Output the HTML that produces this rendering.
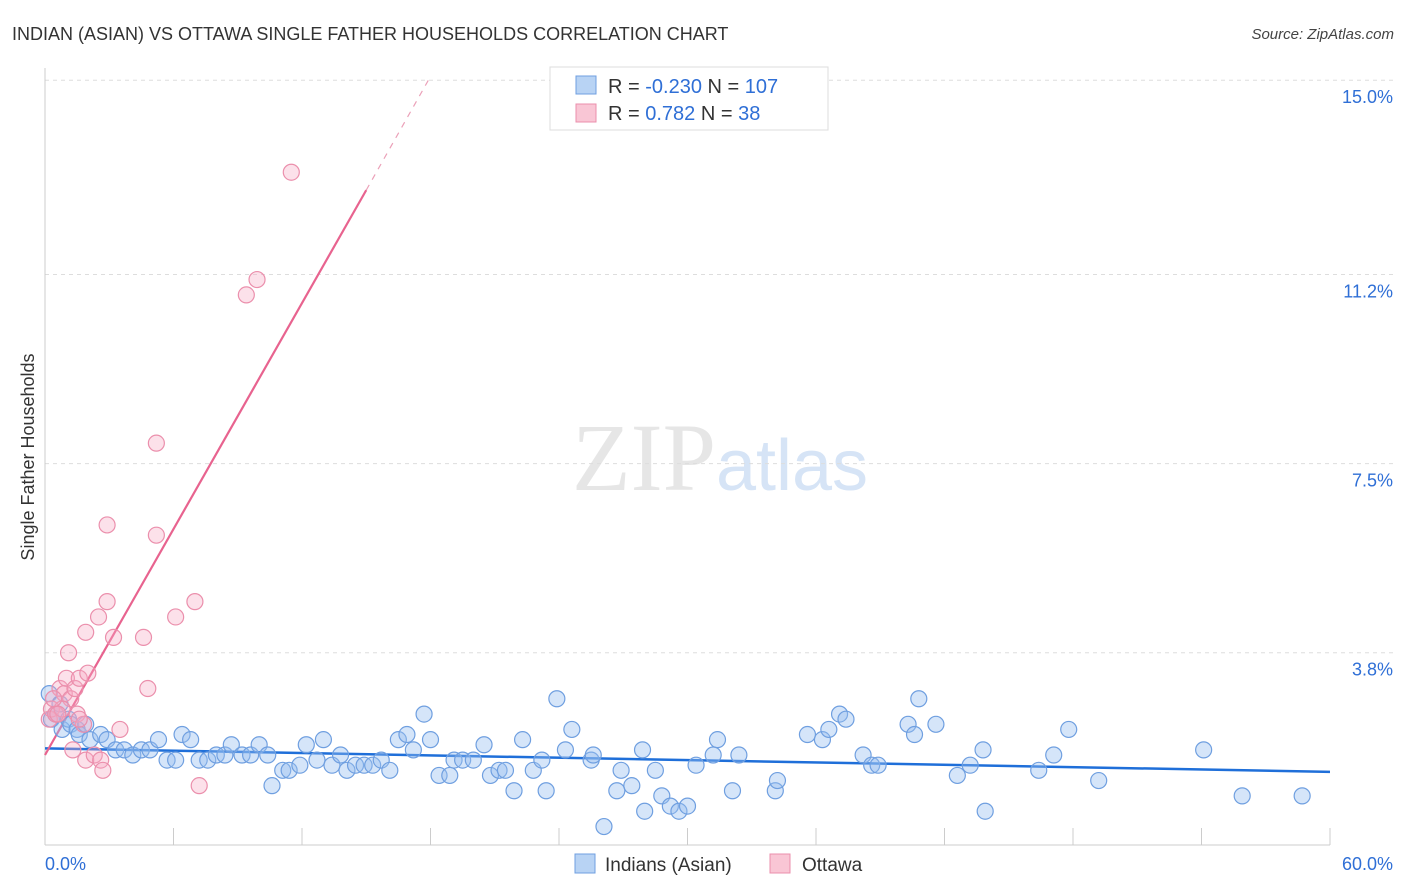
<!DOCTYPE html>
<html><head><meta charset="utf-8"><style>
body{margin:0;background:#fff;font-family:"Liberation Sans",sans-serif;}
svg{display:block}
</style></head><body>
<svg id="chart" width="1406" height="892" viewBox="0 0 1406 892">
<text x="12" y="40" font-size="18" fill="#333">INDIAN (ASIAN) VS OTTAWA SINGLE FATHER HOUSEHOLDS CORRELATION CHART</text>
<text x="1394" y="39" font-size="15" fill="#444" text-anchor="end" font-style="italic">Source: ZipAtlas.com</text>
<text x="720" y="490" font-size="96" text-anchor="middle" fill="#e6e6e6" font-family="Liberation Serif">ZIP<tspan fill="#d6e4f6" font-family="Liberation Sans" font-size="72">atlas</tspan></text>
<text transform="translate(34,457) rotate(-90)" font-size="18" fill="#333" text-anchor="middle">Single Father Households</text>
<g id="grid"></g><g id="axes"></g><g id="lines"></g><g id="pts"></g>
<g>
<rect x="550" y="67" width="278" height="63" fill="#fff" stroke="#ddd"/>
<rect x="576" y="76" width="20" height="18" fill="#b8d3f4" stroke="#6f9fe0"/>
<rect x="576" y="104" width="20" height="18" fill="#f9c6d5" stroke="#eb8fac"/>
<text x="608" y="93" font-size="20" fill="#333">R = <tspan fill="#2f6fd6">-0.230</tspan>   N = <tspan fill="#2f6fd6">107</tspan></text>
<text x="608" y="120" font-size="20" fill="#333">R =   <tspan fill="#2f6fd6">0.782</tspan>   N =   <tspan fill="#2f6fd6">38</tspan></text>
</g>
<g>
<rect x="575" y="854" width="20" height="19" fill="#b8d3f4" stroke="#6f9fe0"/>
<text x="605" y="871" font-size="19" fill="#333">Indians (Asian)</text>
<rect x="770" y="854" width="20" height="19" fill="#f9c6d5" stroke="#eb8fac"/>
<text x="802" y="871" font-size="19" fill="#333">Ottawa</text>
</g>
</svg>
<script>
const yTicks=[3.8,7.5,11.2,15.0];
const yTickLabels=["3.8%","7.5%","11.2%","15.0%"];
const xTickLabels=["0.0%","60.0%"];
const blueX=[0.2,0.3,0.5,0.7,0.8,1.1,1.2,1.5,1.6,1.9,2.1,2.6,2.9,3.3,3.7,4.1,4.5,4.9,5.3,5.7,6.1,6.4,6.8,7.2,7.6,8.0,8.4,8.7,9.2,9.6,10.0,10.4,10.6,11.1,11.4,11.9,12.2,12.7,13.0,13.4,13.8,14.1,14.5,14.9,15.3,15.7,16.1,16.5,16.9,17.2,17.7,18.0,18.4,18.9,19.1,19.5,20.0,20.5,20.8,21.2,21.5,21.9,22.3,22.8,23.2,23.4,23.9,24.3,24.6,25.5,25.6,26.1,26.7,26.9,27.4,27.9,28.0,28.5,28.8,29.2,29.6,30.0,30.4,31.2,31.4,32.1,32.4,34.1,34.2,35.6,36.3,36.6,37.1,37.4,38.2,38.6,38.9,40.3,40.6,40.8,41.6,42.6,43.2,43.8,43.9,46.4,47.1,47.8,49.2,54.1,55.9,58.7];
const blueY=[3.0,2.5,2.6,2.8,2.3,2.5,2.4,2.3,2.2,2.4,2.1,2.2,2.1,1.9,1.9,1.8,1.9,1.9,2.1,1.7,1.7,2.2,2.1,1.7,1.7,1.8,1.8,2.0,1.8,1.8,2.0,1.8,1.2,1.5,1.5,1.6,2.0,1.7,2.1,1.6,1.8,1.5,1.6,1.6,1.6,1.7,1.5,2.1,2.2,1.9,2.6,2.1,1.4,1.4,1.7,1.7,1.7,2.0,1.4,1.5,1.5,1.1,2.1,1.5,1.7,1.1,2.9,1.9,2.3,1.7,1.8,0.4,1.1,1.5,1.2,1.9,0.7,1.5,1.0,0.8,0.7,0.8,1.6,1.8,2.1,1.1,1.8,1.1,1.3,2.2,2.1,2.3,2.6,2.5,1.8,1.6,1.6,2.4,2.2,2.9,2.4,1.4,1.6,1.9,0.7,1.5,1.8,2.3,1.3,1.9,1.0,1.0];
const pinkX=[0.2,0.3,0.5,0.7,0.9,1.0,1.1,1.2,1.3,1.4,1.5,1.6,1.8,1.9,1.9,2.0,2.3,2.5,2.6,2.7,2.9,2.9,3.2,3.5,4.8,4.6,5.2,5.2,6.1,7.0,7.2,9.4,9.9,11.5,0.8,0.4,0.6,1.6];
const pinkY=[2.5,2.7,2.6,3.1,3.0,3.3,3.8,2.9,1.9,3.1,2.6,3.3,2.4,1.7,4.2,3.4,1.8,4.5,1.7,1.5,6.3,4.8,4.1,2.3,3.1,4.1,7.9,6.1,4.5,4.8,1.2,10.8,11.1,13.2,2.7,2.9,2.6,2.5];
const blueLine=[[0,1.93],[60,1.47]];
const pinkLine=[[0,1.8],[15.0,12.85]];
const pinkDash=[[15.0,12.85],[17.9,15.0]];
const X=v=>45+v/60*1285, Y=v=>847-v/3.75*191.7;
const NS="http://www.w3.org/2000/svg";
function mk(tag,attrs,parent){const e=document.createElementNS(NS,tag);for(const k in attrs)e.setAttribute(k,attrs[k]);parent.appendChild(e);return e;}
const grid=document.getElementById('grid'),axes=document.getElementById('axes'),lines=document.getElementById('lines'),pts=document.getElementById('pts');
yTicks.forEach((t,i)=>{
 const l=mk('line',{x1:45,x2:1395,y1:Y(t),y2:Y(t),stroke:'#ddd','stroke-dasharray':'4,4'},grid);
 
 
 const tx=mk('text',{x:1393,y:Y(t)+23,'font-size':18,fill:'#2f6fd6','text-anchor':'end'},axes);
 tx.textContent=yTickLabels[i];
 
 
});
const xa=mk('line',{x1:45,x2:1330,y1:845,y2:845,stroke:'#ccc'},axes);


const ya=mk('line',{x1:45,x2:45,y1:68,y2:845,stroke:'#ccc'},axes);


for(let i=0;i<=10;i++){const t=mk('line',{x1:X(i*6),x2:X(i*6),y1:828,y2:845,stroke:'#ccc'},axes);
 
 }
[[0,'start',45],[60,'end',1393]].forEach((a,i)=>{const t=mk('text',{x:a[2],y:870,'font-size':18,fill:'#2f6fd6','text-anchor':a[1]},axes);t.textContent=xTickLabels[i];
 
 });
blueX.forEach((x,i)=>{const c=mk('circle',{cx:X(x),cy:Y(blueY[i]),r:8,fill:'rgba(150,190,240,0.4)',stroke:'#6f9fe0','stroke-width':1.2},pts);
 
 });
pinkX.forEach((x,i)=>{const c=mk('circle',{cx:X(x),cy:Y(pinkY[i]),r:8,fill:'rgba(245,170,195,0.35)',stroke:'#eb8fac','stroke-width':1.2},pts);
 
 });
const bl=mk('line',{x1:X(blueLine[0][0]),y1:Y(blueLine[0][1]),x2:X(blueLine[1][0]),y2:Y(blueLine[1][1]),stroke:'#1f6fd9','stroke-width':2.5},lines);


const pl=mk('line',{x1:X(pinkLine[0][0]),y1:Y(pinkLine[0][1]),x2:X(pinkLine[1][0]),y2:Y(pinkLine[1][1]),stroke:'#e8638f','stroke-width':2.2},lines);


const pd=mk('line',{x1:X(pinkDash[0][0]),y1:Y(pinkDash[0][1]),x2:X(pinkDash[1][0]),y2:Y(pinkDash[1][1]),stroke:'#eba0b8','stroke-width':1.2,'stroke-dasharray':'6,6'},lines);


</script>
</body></html>
